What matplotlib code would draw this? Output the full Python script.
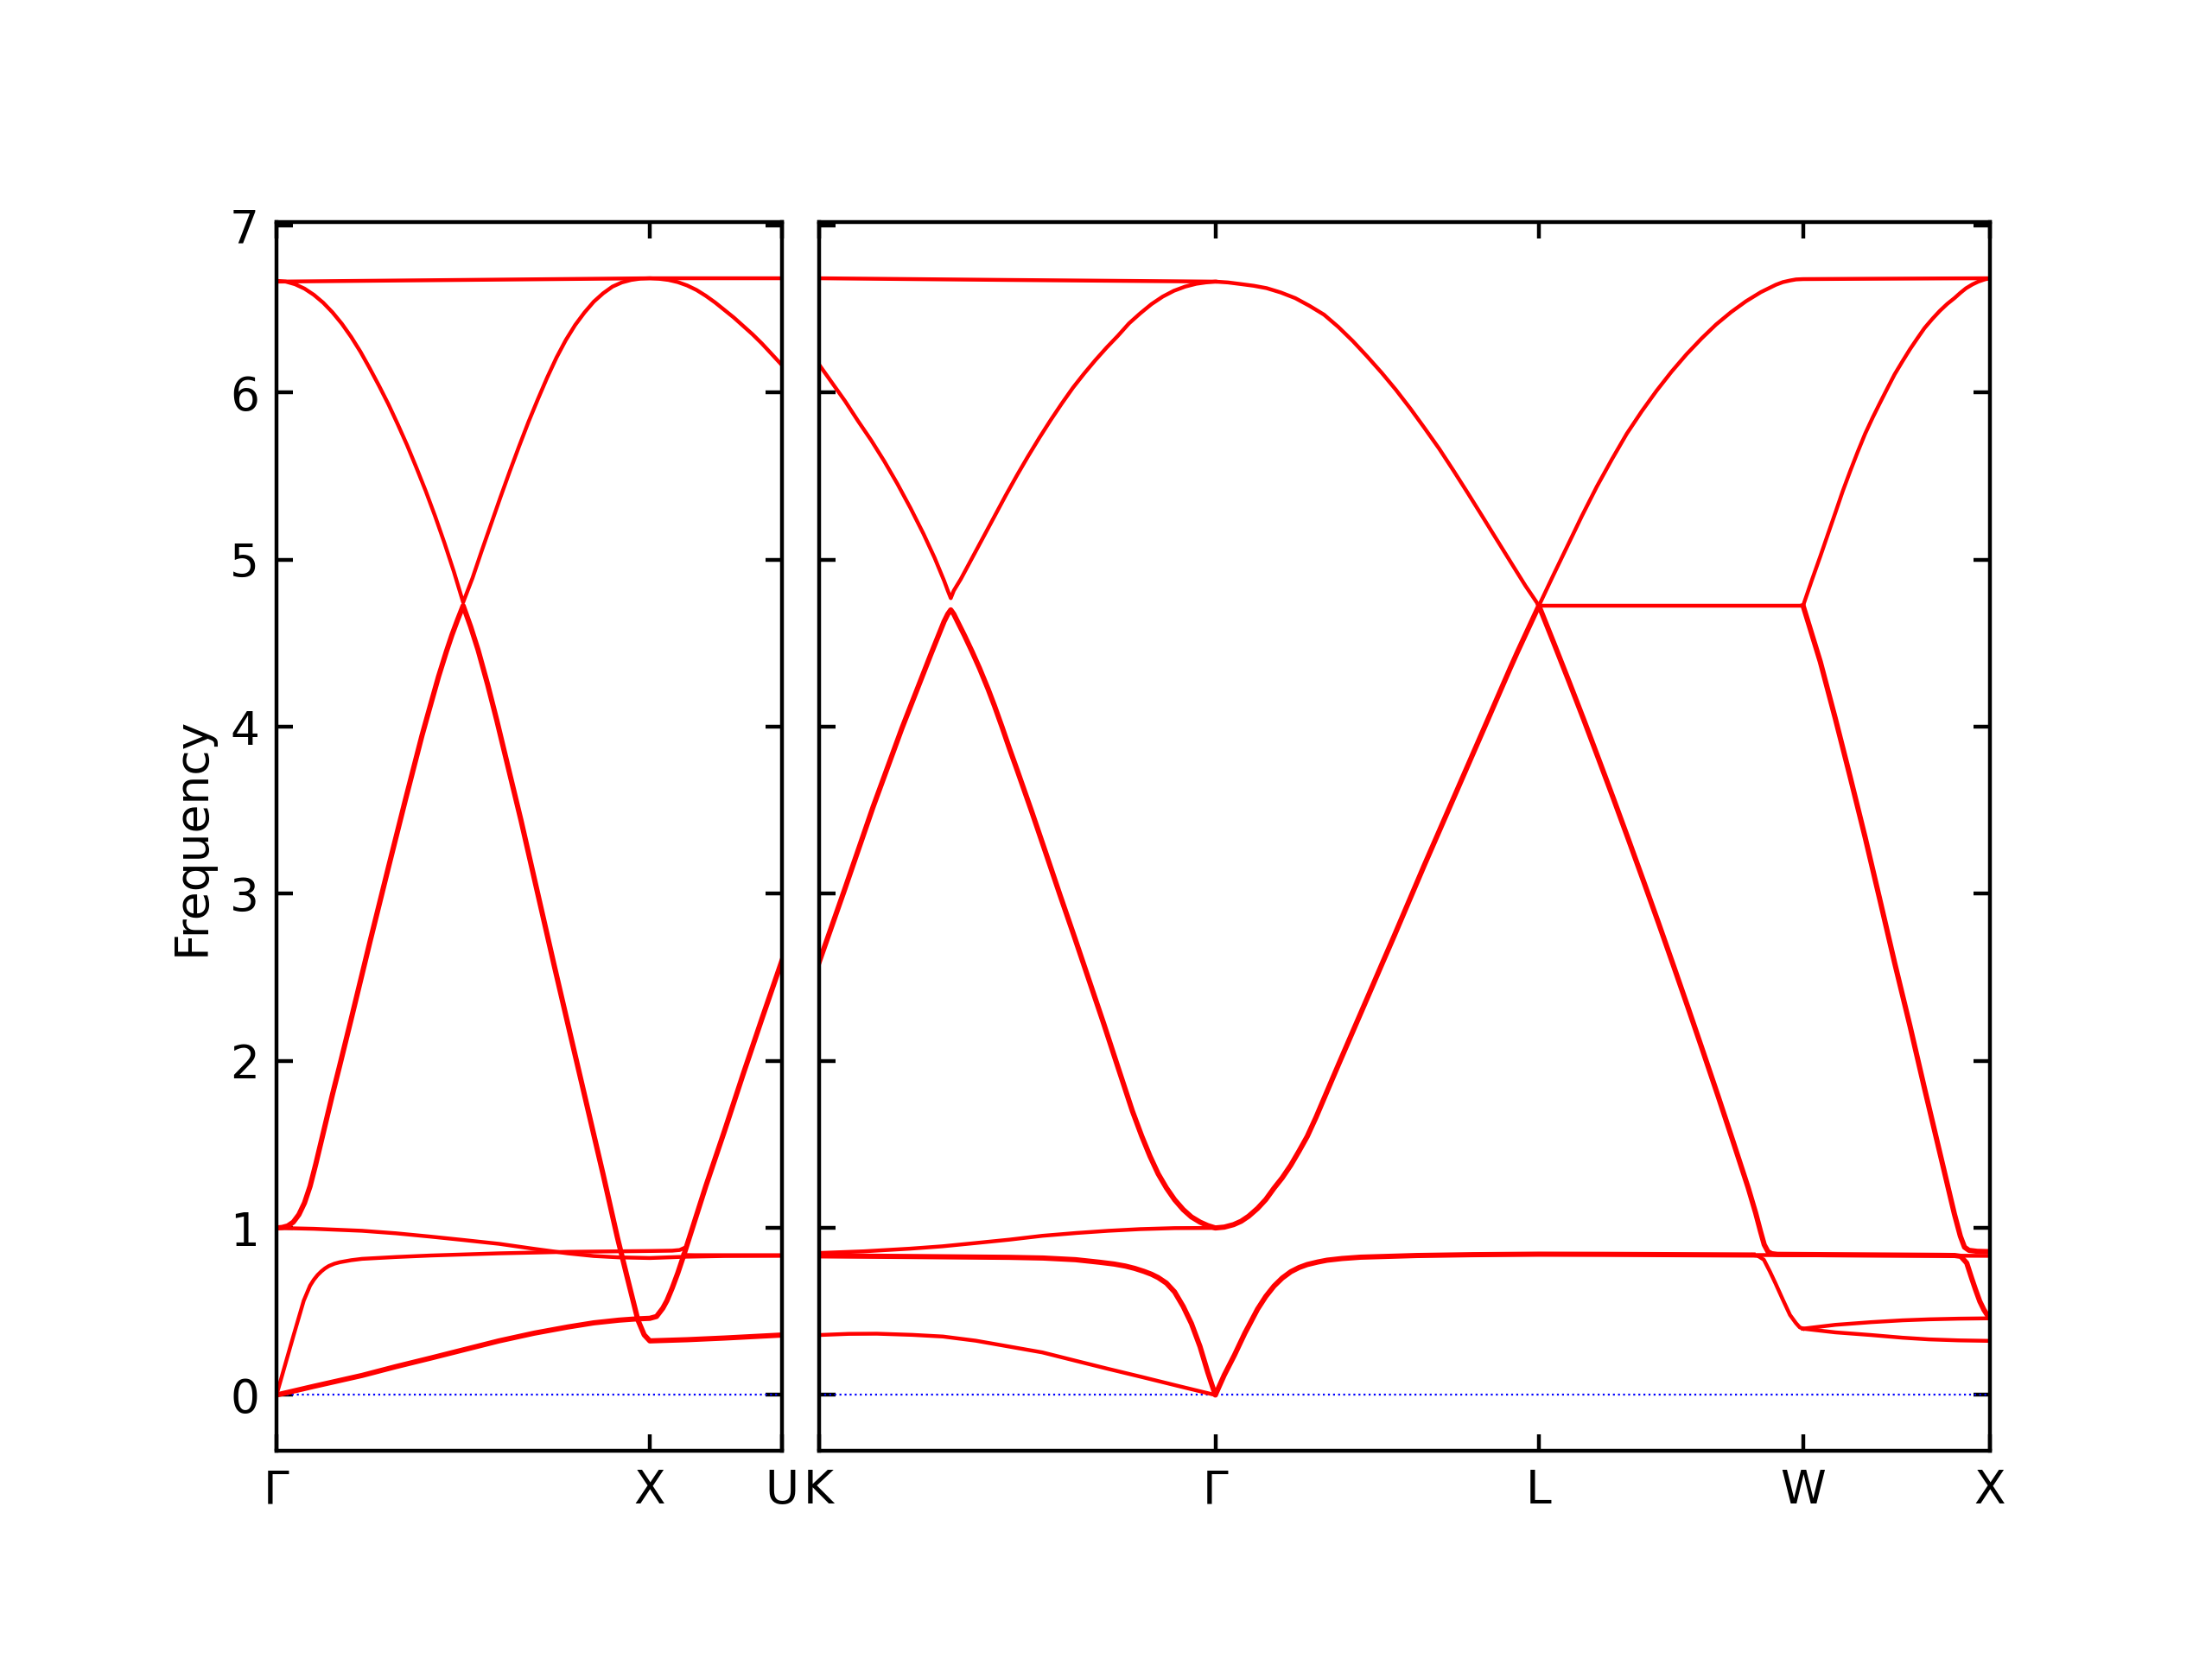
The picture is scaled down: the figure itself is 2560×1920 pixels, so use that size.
import numpy as np
import matplotlib
matplotlib.use('Agg')
import matplotlib.pyplot as plt

plt.rcParams['font.size'] = 12
plt.rcParams['font.family'] = 'DejaVu Sans'

# path positions (units of 2pi/a) and labels of the high-symmetry points
left_ticks = [0.0, 1.0, 1.354]
left_labels = ['Γ', 'X', 'U']
right_ticks = [0.0, 1.061, 1.927, 2.634, 3.134]
right_labels = ['K', 'Γ', 'L', 'W', 'X']
freq_ticks = [0, 1, 2, 3, 4, 5, 6, 7]

# ---- Γ-X-U panel: (distance, frequency) ----
gxu_top = [(0.0, 6.665), (0.5, 6.675), (1.0, 6.685), (1.354, 6.685)]

gxu_upper = [(0.0, 6.67), (0.025, 6.665), (0.05, 6.649), (0.075, 6.623), (0.1, 6.586),
             (0.125, 6.539), (0.15, 6.481), (0.175, 6.413), (0.2, 6.334), (0.225, 6.245),
             (0.25, 6.145), (0.275, 6.04), (0.3, 5.93), (0.325, 5.81), (0.35, 5.685),
             (0.375, 5.55), (0.4, 5.41), (0.425, 5.26), (0.45, 5.10), (0.475, 4.93),
             (0.5, 4.745), (0.525, 4.89), (0.55, 5.055), (0.575, 5.215), (0.6, 5.375),
             (0.625, 5.53), (0.65, 5.68), (0.675, 5.825), (0.7, 5.96), (0.725, 6.09),
             (0.75, 6.21), (0.775, 6.315), (0.8, 6.405), (0.825, 6.48), (0.85, 6.545),
             (0.875, 6.595), (0.9, 6.635), (0.925, 6.66), (0.95, 6.675), (0.975, 6.683),
             (1.0, 6.685), (1.025, 6.682), (1.05, 6.675), (1.075, 6.662), (1.1, 6.642),
             (1.125, 6.615), (1.15, 6.58), (1.175, 6.54), (1.2, 6.495), (1.225, 6.45),
             (1.25, 6.40), (1.275, 6.35), (1.3, 6.295), (1.325, 6.235), (1.354, 6.165)]

gxu_lower = [(0.0, 1.0), (0.015, 1.003), (0.03, 1.012), (0.045, 1.035), (0.06, 1.08),
             (0.075, 1.15), (0.09, 1.25), (0.105, 1.38), (0.12, 1.52), (0.135, 1.66),
             (0.15, 1.80), (0.168, 1.96), (0.2, 2.25), (0.25, 2.71), (0.3, 3.16),
             (0.345, 3.56), (0.39, 3.95), (0.41, 4.11), (0.434, 4.30), (0.455, 4.45),
             (0.47, 4.55), (0.485, 4.64), (0.5, 4.725), (0.52, 4.60), (0.54, 4.46),
             (0.566, 4.25), (0.59, 4.04), (0.61, 3.855), (0.655, 3.44), (0.70, 3.0),
             (0.743, 2.58), (0.79, 2.13), (0.832, 1.73), (0.875, 1.32), (0.913, 0.945),
             (0.94, 0.70), (0.968, 0.45), (0.985, 0.36), (1.0, 0.324), (1.1, 0.331),
             (1.2, 0.341), (1.354, 0.359)]

gxu_mid = [(0.0, 1.0), (0.1, 0.995), (0.229, 0.983), (0.32, 0.968), (0.413, 0.948),
           (0.50, 0.928), (0.596, 0.905), (0.69, 0.875), (0.78, 0.848), (0.85, 0.832),
           (0.917, 0.824), (1.0, 0.82), (1.1, 0.828), (1.2, 0.832), (1.354, 0.833)]

gxu_plateau = [(0.0, 0.0), (0.023, 0.18), (0.046, 0.359), (0.073, 0.565), (0.09, 0.655),
               (0.1, 0.69), (0.11, 0.718), (0.12, 0.74), (0.13, 0.758), (0.14, 0.772),
               (0.155, 0.786), (0.17, 0.795), (0.2, 0.807), (0.229, 0.815), (0.32, 0.826),
               (0.413, 0.835), (0.596, 0.848), (0.78, 0.857), (1.0, 0.862), (1.06, 0.864),
               (1.08, 0.868), (1.092, 0.88)]

gxu_flat = [(1.09, 0.838), (1.12, 0.837), (1.2, 0.837), (1.354, 0.837)]

gxu_acoustic = [(0.0, 0.0), (0.1, 0.052), (0.229, 0.117), (0.32, 0.17), (0.413, 0.221),
                (0.50, 0.27), (0.596, 0.324), (0.69, 0.37), (0.78, 0.407), (0.85, 0.432),
                (0.917, 0.448), (0.96, 0.455), (1.0, 0.459), (1.018, 0.47), (1.035, 0.52),
                (1.046, 0.565), (1.06, 0.64), (1.075, 0.73), (1.09, 0.83), (1.10, 0.90),
                (1.15, 1.25), (1.2, 1.58), (1.25, 1.92), (1.3, 2.25), (1.354, 2.6)]

# ---- K-Γ-L-W-X panel ----
kg_top = [(0.0, 6.685), (0.5, 6.675), (1.061, 6.665)]

kgl_upper = [(0.0, 6.17), (0.035, 6.06), (0.07, 5.95), (0.105, 5.83), (0.14, 5.715),
             (0.175, 5.59), (0.21, 5.455), (0.245, 5.31), (0.28, 5.155), (0.31, 5.01),
             (0.335, 4.875), (0.345, 4.815), (0.353, 4.77), (0.361, 4.815), (0.38, 4.885),
             (0.41, 5.01), (0.44, 5.135), (0.47, 5.26), (0.5, 5.385), (0.53, 5.505),
             (0.56, 5.62), (0.59, 5.73), (0.62, 5.835), (0.65, 5.935), (0.68, 6.03),
             (0.71, 6.115), (0.74, 6.195), (0.77, 6.27), (0.80, 6.34), (0.83, 6.415),
             (0.86, 6.475), (0.89, 6.53), (0.92, 6.575), (0.95, 6.61), (0.98, 6.635),
             (1.01, 6.652), (1.035, 6.66), (1.061, 6.665), (1.095, 6.66), (1.13, 6.65),
             (1.164, 6.64), (1.198, 6.626), (1.236, 6.60), (1.275, 6.566), (1.313, 6.52),
             (1.352, 6.467), (1.39, 6.394), (1.429, 6.309), (1.467, 6.218), (1.506, 6.12),
             (1.544, 6.018), (1.583, 5.905), (1.621, 5.788), (1.66, 5.665), (1.698, 5.535),
             (1.737, 5.398), (1.775, 5.262), (1.814, 5.121), (1.852, 4.984), (1.891, 4.844),
             (1.909, 4.785), (1.927, 4.725)]

kgl_lower = [(0.0, 2.587), (0.068, 3.02), (0.145, 3.52), (0.222, 3.99), (0.299, 4.43),
             (0.335, 4.63), (0.345, 4.675), (0.353, 4.70), (0.361, 4.675), (0.371, 4.63),
             (0.39, 4.545), (0.41, 4.45), (0.43, 4.35), (0.453, 4.225), (0.47, 4.125),
             (0.49, 4.0), (0.51, 3.87), (0.530, 3.745), (0.57, 3.49), (0.608, 3.24),
             (0.645, 2.995), (0.685, 2.735), (0.725, 2.47), (0.762, 2.225), (0.8, 1.965),
             (0.839, 1.70), (0.864, 1.55), (0.886, 1.43), (0.908, 1.324), (0.93, 1.24),
             (0.952, 1.169), (0.975, 1.11), (0.997, 1.066), (1.02, 1.035), (1.041, 1.014),
             (1.061, 1.0), (1.085, 1.005), (1.11, 1.02), (1.13, 1.04), (1.15, 1.07),
             (1.174, 1.117), (1.196, 1.17), (1.218, 1.238), (1.24, 1.30), (1.263, 1.376),
             (1.285, 1.46), (1.307, 1.548), (1.33, 1.66), (1.35, 1.765), (1.37, 1.87),
             (1.391, 1.98), (1.42, 2.13), (1.45, 2.285), (1.48, 2.44), (1.506, 2.575),
             (1.54, 2.75), (1.58, 2.96), (1.62, 3.17), (1.66, 3.375), (1.70, 3.58),
             (1.74, 3.785), (1.78, 3.99), (1.814, 4.165), (1.85, 4.35), (1.87, 4.45),
             (1.9, 4.595), (1.927, 4.725)]

lwx_top = [(1.927, 4.725), (1.965, 4.905), (2.003, 5.081), (2.042, 5.262), (2.082, 5.438),
           (2.122, 5.60), (2.162, 5.754), (2.202, 5.888), (2.242, 6.012), (2.282, 6.126),
           (2.322, 6.23), (2.362, 6.324), (2.401, 6.408), (2.441, 6.482), (2.481, 6.547),
           (2.521, 6.602), (2.561, 6.646), (2.58, 6.662), (2.60, 6.672), (2.615, 6.678),
           (2.634, 6.68), (2.8, 6.682), (3.0, 6.684), (3.134, 6.685)]

lw_flat = [(1.927, 4.725), (2.28, 4.725), (2.634, 4.725)]

lw_fall = [(1.927, 4.725), (1.967, 4.501), (2.007, 4.274), (2.047, 4.043), (2.087, 3.806),
           (2.127, 3.567), (2.167, 3.323), (2.207, 3.076), (2.247, 2.826), (2.287, 2.571),
           (2.327, 2.313), (2.367, 2.051), (2.407, 1.786), (2.447, 1.515), (2.487, 1.241),
           (2.507, 1.09), (2.52, 0.98), (2.53, 0.90), (2.54, 0.858), (2.55, 0.846),
           (2.565, 0.842), (2.7, 0.840), (2.85, 0.838), (3.0, 0.836), (3.04, 0.835),
           (3.056, 0.83), (3.072, 0.79), (3.085, 0.70), (3.095, 0.634), (3.107, 0.56),
           (3.118, 0.51), (3.128, 0.475), (3.134, 0.459)]

wx_rise = [(2.634, 4.725), (2.657, 4.875), (2.68, 5.02), (2.70, 5.15), (2.720, 5.279),
           (2.74, 5.41), (2.76, 5.53), (2.78, 5.645), (2.800, 5.754), (2.82, 5.85),
           (2.84, 5.94), (2.86, 6.028), (2.879, 6.11), (2.90, 6.188), (2.92, 6.26),
           (2.94, 6.326), (2.959, 6.387), (2.98, 6.442), (3.0, 6.49), (3.02, 6.532),
           (3.039, 6.566), (3.055, 6.598), (3.07, 6.625), (3.087, 6.648), (3.103, 6.665),
           (3.12, 6.678), (3.134, 6.685)]

wx_fall = [(2.634, 4.725), (2.68, 4.39), (2.720, 4.052), (2.76, 3.70), (2.800, 3.339),
           (2.84, 2.96), (2.879, 2.587), (2.92, 2.21), (2.959, 1.835), (3.0, 1.45),
           (3.039, 1.083), (3.055, 0.95), (3.066, 0.885), (3.078, 0.866), (3.1, 0.86),
           (3.134, 0.858)]

kg_acoustic = [(0.0, 0.359), (0.08, 0.366), (0.155, 0.367), (0.25, 0.36), (0.332, 0.35),
               (0.42, 0.325), (0.509, 0.29), (0.598, 0.255), (0.687, 0.205), (0.775, 0.156),
               (0.864, 0.108), (0.96, 0.055), (1.061, 0.0)]

kg_upper_opt = [(0.0, 0.85), (0.12, 0.86), (0.244, 0.876), (0.33, 0.89), (0.421, 0.91),
                (0.51, 0.93), (0.598, 0.953), (0.69, 0.97), (0.775, 0.983), (0.86, 0.993),
                (0.952, 0.999), (1.061, 1.0)]

kgl_plateau = [(0.0, 0.833), (0.244, 0.829), (0.509, 0.824), (0.6, 0.82), (0.687, 0.81),
               (0.75, 0.795), (0.79, 0.784), (0.82, 0.772), (0.845, 0.758), (0.87, 0.74),
               (0.89, 0.723), (0.908, 0.703), (0.93, 0.67), (0.952, 0.617), (0.975, 0.53),
               (0.997, 0.428), (1.02, 0.29), (1.041, 0.134), (1.061, 0.0), (1.085, 0.12),
               (1.112, 0.238), (1.14, 0.37), (1.174, 0.514), (1.196, 0.59), (1.218, 0.652),
               (1.24, 0.70), (1.263, 0.738), (1.285, 0.763), (1.307, 0.781), (1.335, 0.796),
               (1.36, 0.807), (1.40, 0.817), (1.45, 0.825), (1.6, 0.835), (1.75, 0.84),
               (1.927, 0.843), (2.1, 0.842), (2.3, 0.84), (2.5, 0.838)]

lx_plateau = [(2.5, 0.838), (2.7, 0.836), (2.9, 0.835), (3.134, 0.833)]

w_branch = [(2.5, 0.838), (2.515, 0.83), (2.529, 0.81), (2.545, 0.74), (2.560, 0.669),
            (2.58, 0.57), (2.599, 0.479), (2.615, 0.43), (2.625, 0.405), (2.634, 0.397)]

wx_low_a = [(2.634, 0.397), (2.72, 0.42), (2.816, 0.436), (2.9, 0.447), (2.971, 0.453),
            (3.05, 0.457), (3.134, 0.459)]

wx_low_b = [(2.634, 0.397), (2.72, 0.375), (2.816, 0.359), (2.9, 0.343), (2.971, 0.333),
            (3.05, 0.327), (3.134, 0.324)]

thin_left = [gxu_top, gxu_upper, gxu_mid, gxu_plateau, gxu_flat]
thick_left = [gxu_lower, gxu_acoustic]
thin_right = [kg_top, kgl_upper, lwx_top, lw_flat, wx_rise, kg_acoustic, kg_upper_opt,
              lx_plateau, w_branch, wx_low_a, wx_low_b]
thick_right = [kgl_lower, lw_fall, wx_fall, kgl_plateau]

fig = plt.figure(figsize=(8, 6), dpi=320)
ax1 = fig.add_axes([0.125, 0.1255, 0.2285, 0.7405])
ax2 = fig.add_axes([0.3702, 0.1255, 0.5294, 0.7405])


def draw(ax, bands, lw):
    for band in bands:
        d, f = np.array(band).T
        ax.plot(d, f, 'r-', lw=lw, solid_joinstyle='round')


for ax, thin, thick, ticks, labels in [(ax1, thin_left, thick_left, left_ticks, left_labels),
                                       (ax2, thin_right, thick_right, right_ticks, right_labels)]:
    ax.axhline(0, linestyle=':', linewidth=0.5, color='b')
    draw(ax, thin, 1.0)
    draw(ax, thick, 1.35)
    ax.set_xlim(ticks[0], ticks[-1])
    ax.set_ylim(-0.334, 7.02)
    ax.set_xticks(ticks)
    ax.set_xticklabels(labels)
    ax.set_yticks(freq_ticks)
    ax.tick_params(direction='in', top=True, right=True, length=4.3, width=1.0, pad=4.5)
    for s in ax.spines.values():
        s.set_linewidth(1.0)

ax2.tick_params(labelleft=False)
ax1.set_ylabel('Frequency')

fig.savefig('out.png', dpi=320)
